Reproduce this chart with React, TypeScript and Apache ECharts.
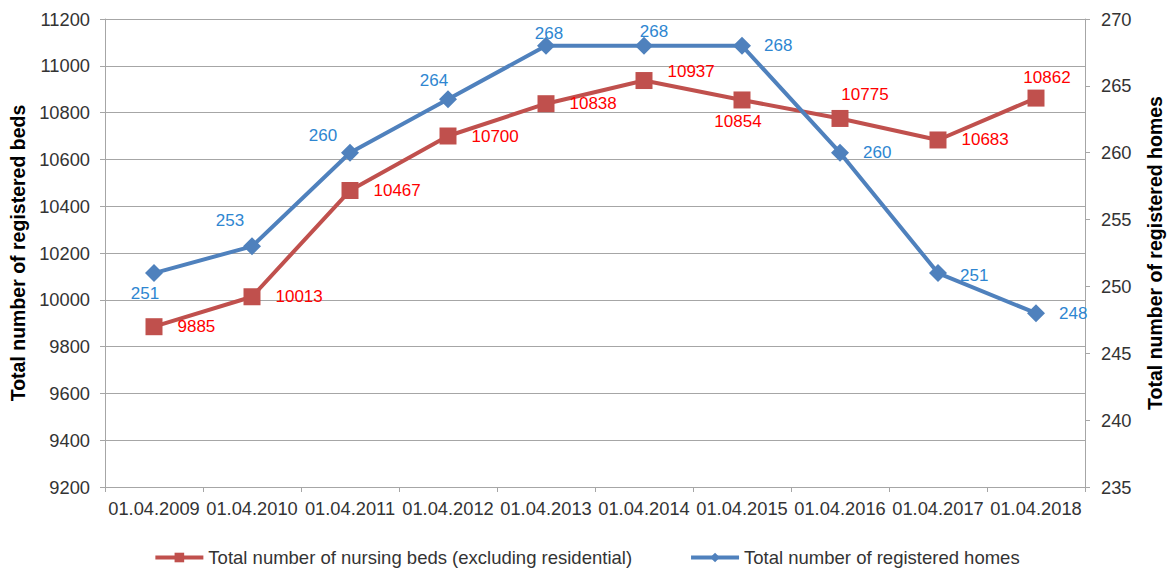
import React, { useEffect, useRef } from "react";
import * as echarts from "echarts";

const categories = [
  "01.04.2009", "01.04.2010", "01.04.2011", "01.04.2012", "01.04.2013",
  "01.04.2014", "01.04.2015", "01.04.2016", "01.04.2017", "01.04.2018",
];
const nursingBeds = [9885, 10013, 10467, 10700, 10838, 10937, 10854, 10775, 10683, 10862];
const registeredHomes = [251, 253, 260, 264, 268, 268, 268, 260, 251, 248];

const bedsName = "Total number of nursing beds (excluding residential)";
const homesName = "Total number of registered homes";

// label placement per point (style only, not data)
const redLabelLayout: any[] = [
  { position: "right", distance: 15 },
  { position: "right", distance: 15 },
  { position: "right", distance: 15 },
  { position: "right", distance: 15 },
  { position: "right", distance: 15 },
  { position: "right", distance: 15, offset: [0, -9] },
  { position: "bottom", distance: 5, offset: [-4, 0] },
  { position: "top", distance: 7, offset: [25, 0] },
  { position: "right", distance: 15 },
  { position: "top", distance: 4, offset: [11, 0] },
];
const blueLabelLayout: any[] = [
  { position: "bottom", distance: 3, offset: [-9, 0] },
  { position: "top", distance: 8, offset: [-22, 0] },
  { position: "top", distance: 0, offset: [-27, 0] },
  { position: "top", distance: 1, offset: [-14, 0] },
  { position: "top", distance: 0, offset: [3, 5] },
  { position: "top", distance: 0, offset: [10, 3] },
  { position: "right", distance: 13 },
  { position: "right", distance: 14 },
  { position: "right", distance: 13, offset: [0, 2] },
  { position: "right", distance: 14 },
];

const FONT = "'Liberation Sans', Arial, sans-serif";
const GRID_COLOR = "#A6A6A6";
const TEXT_COLOR = "#333333";

export default function App() {
  const ref = useRef<HTMLDivElement>(null);
  useEffect(() => {
    document.body.style.margin = "0";
    if (!ref.current) return;
    const chart = echarts.init(ref.current, undefined, { renderer: "svg" });
    chart.setOption({
      animation: false,
      backgroundColor: "#ffffff",
      textStyle: { fontFamily: FONT },
      grid: { left: 105, right: 86, top: 19, bottom: 83 },
      legend: {
        left: "center",
        top: 543,
        itemWidth: 48,
        itemHeight: 12,
        itemGap: 57,
        lineStyle: { width: 4 },
        textStyle: { fontSize: 18.5, color: TEXT_COLOR, fontFamily: FONT },
        data: [bedsName, homesName],
      },
      xAxis: {
        type: "category",
        data: categories,
        boundaryGap: true,
        axisLine: { lineStyle: { color: GRID_COLOR, width: 1 } },
        axisTick: { show: true, length: 5, interval: 0, lineStyle: { color: GRID_COLOR } },
        axisLabel: { interval: 0, fontSize: 18.3, color: TEXT_COLOR, margin: 12 },
        splitLine: { show: false },
      },
      yAxis: [
        {
          type: "value",
          min: 9200,
          max: 11200,
          interval: 200,
          name: "Total number of registered beds",
          nameLocation: "middle",
          nameGap: 76,
          nameTextStyle: { fontSize: 19.5, fontWeight: "bold", color: "#000000" },
          axisLine: { show: true, lineStyle: { color: GRID_COLOR, width: 1 } },
          axisTick: { show: true, length: 5, lineStyle: { color: GRID_COLOR } },
          axisLabel: { fontSize: 18.3, color: TEXT_COLOR, margin: 15, formatter: (v: number) => String(v) },
          splitLine: { show: true, lineStyle: { color: GRID_COLOR, width: 1 } },
        },
        {
          type: "value",
          min: 235,
          max: 270,
          interval: 5,
          position: "right",
          name: "Total number of registered homes",
          nameLocation: "middle",
          nameGap: 60,
          nameTextStyle: { fontSize: 19.5, fontWeight: "bold", color: "#000000" },
          axisLine: { show: true, lineStyle: { color: GRID_COLOR, width: 1 } },
          axisTick: { show: true, length: 5, lineStyle: { color: GRID_COLOR } },
          axisLabel: { fontSize: 18.3, color: TEXT_COLOR, margin: 16, formatter: (v: number) => String(v) },
          splitLine: { show: false },
        },
      ],
      series: [
        {
          name: bedsName,
          type: "line",
          yAxisIndex: 0,
          symbol: "rect",
          symbolSize: 17,
          color: "#C0504D",
          lineStyle: { width: 4, color: "#C0504D" },
          itemStyle: { color: "#C0504D" },
          label: { show: true, fontSize: 17, color: "#FF0000", fontFamily: FONT },
          data: nursingBeds.map((v, i) => ({ value: v, label: redLabelLayout[i] })),
          z: 2,
        },
        {
          name: homesName,
          type: "line",
          yAxisIndex: 1,
          symbol: "diamond",
          symbolSize: 18,
          color: "#4F81BD",
          lineStyle: { width: 4, color: "#4F81BD" },
          itemStyle: { color: "#4F81BD" },
          label: { show: true, fontSize: 17, color: "#2E86D1", fontFamily: FONT },
          data: registeredHomes.map((v, i) => ({ value: v, label: blueLabelLayout[i] })),
          z: 3,
        },
      ],
    });
    return () => chart.dispose();
  }, []);
  return <div ref={ref} style={{ width: 1173, height: 570 }} />;
}
